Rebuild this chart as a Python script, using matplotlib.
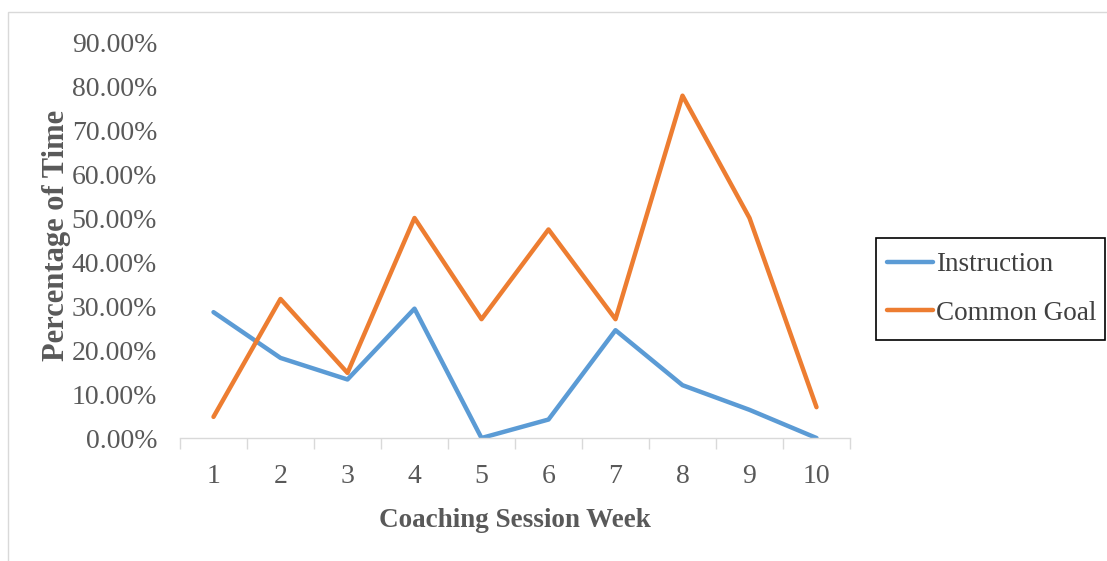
import matplotlib
matplotlib.use("Agg")
import matplotlib.pyplot as plt
from matplotlib.patches import Rectangle
from matplotlib.ticker import FuncFormatter, FixedLocator

weeks = [1, 2, 3, 4, 5, 6, 7, 8, 9, 10]
instruction = [0.286, 0.182, 0.133, 0.294, 0.0, 0.042, 0.245, 0.12, 0.064, 0.0]
common_goal = [0.048, 0.316, 0.148, 0.50, 0.27, 0.474, 0.27, 0.778, 0.50, 0.07]
yticks = [0.0, 0.1, 0.2, 0.3, 0.4, 0.5, 0.6, 0.7, 0.8, 0.9]

plt.rcParams['font.family'] = ['Liberation Serif', 'DejaVu Serif']

W, H = 1107, 561
fig = plt.figure(figsize=(W / 100, H / 100), dpi=100)
fig.patches.append(Rectangle((8 / W, -0.1), 1.2, (561 - 12) / H + 0.1,
                             transform=fig.transFigure, fill=False,
                             edgecolor='#d9d9d9', linewidth=1))

ax = fig.add_axes([180 / W, (H - 438) / H, (850 - 180) / W, (438 - 42) / H])
ax.plot(weeks, instruction, color='#5B9BD5', linewidth=3.2, label='Instruction',
        solid_joinstyle='round', solid_capstyle='round')
ax.plot(weeks, common_goal, color='#ED7D31', linewidth=3.2, label='Common Goal',
        solid_joinstyle='round', solid_capstyle='round')

ax.set_xlim(0.5, 10.5)
ax.set_ylim(0, 0.9)
ax.set_yticks(yticks)
ax.yaxis.set_major_formatter(FuncFormatter(lambda v, p: f"{v*100:.2f}%"))
ax.set_xticks(weeks)
ax.xaxis.set_minor_locator(FixedLocator([w + 0.5 for w in [0] + weeks]))
ax.tick_params(axis='x', which='major', length=0, pad=19, labelsize=20, labelcolor='#595959')
ax.tick_params(axis='x', which='minor', length=8, color='#d9d9d9', width=1)
ax.tick_params(axis='y', length=0, pad=16.5, labelsize=20, labelcolor='#595959')
for s in ['top', 'right', 'left']:
    ax.spines[s].set_visible(False)
ax.spines['bottom'].set_color('#d9d9d9')
ax.spines['bottom'].set_linewidth(1)

ax.set_xlabel('Coaching Session Week', fontsize=19.5, fontweight='bold', color='#595959')
ax.set_ylabel('Percentage of Time', fontsize=22, fontweight='bold', color='#595959')
ax.xaxis.set_label_coords(515 / W, (H - 508) / H, transform=fig.transFigure)
ax.yaxis.set_label_coords(71 / W, (H - 235) / H, transform=fig.transFigure)

# legend box
fig.patches.append(Rectangle((876 / W, (H - 340) / H), (1105 - 876) / W, (340 - 238) / H,
                             transform=fig.transFigure, fill=False,
                             edgecolor='black', linewidth=1.2))
leg = fig.legend(loc='center left', bbox_to_anchor=(879 / W, (H - 289) / H),
                 frameon=False, fontsize=19.5, handlelength=1.7,
                 handletextpad=0.1, labelspacing=0.88, borderpad=0.3, borderaxespad=0)
for t in leg.get_texts():
    t.set_color('#404040')

fig.savefig('out.png', dpi=100)
